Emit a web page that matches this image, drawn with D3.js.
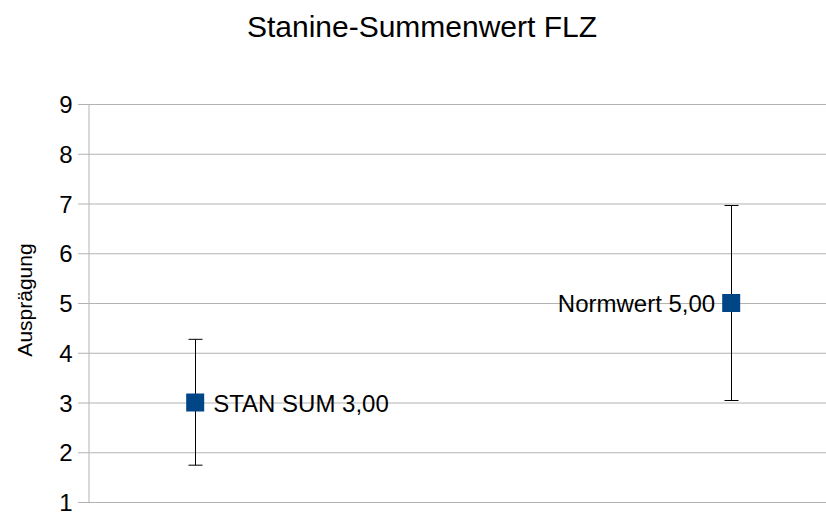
<!DOCTYPE html>
<html><head><meta charset="utf-8">
<script src="https://cdn.jsdelivr.net/npm/d3@7"></script>
<style>body{margin:0;background:#fff}svg{display:block;font-family:"Liberation Sans",Arial,sans-serif}</style>
</head><body>
<svg id="c" width="826" height="512"></svg>
<script>
const title = "Stanine-Summenwert FLZ";
const yTitle = "Ausprägung";
const names = ["STAN SUM", "Normwert"];
const xPos = [1, 2];
const values = [3, 5];
const errLow = [1.74, 3.04];
const errHigh = [4.27, 6.96];
const yTicks = [1, 2, 3, 4, 5, 6, 7, 8, 9];

(function () {
const svg = d3.select("#c");
const plotLeft = 88, plotTop = 104, plotBottom = 502;
const x = d3.scaleLinear().domain([0.8, 2.2]).range([plotLeft, plotLeft + 1.4 * 536]);
const y = d3.scaleLinear().domain([1, 9]).range([plotBottom, plotTop]);

svg.append("text").attr("x", 422).attr("y", 37).attr("text-anchor", "middle")
  .attr("font-size", 30).attr("fill", "#000").text(title);

// grid
svg.append("g").selectAll("line").data(yTicks).join("line")
  .attr("x1", plotLeft - 10).attr("x2", 826)
  .attr("y1", d => y(d) + 0.5).attr("y2", d => y(d) + 0.5)
  .attr("stroke", "#b3b3b3").attr("stroke-width", 1);

const yAxis = svg.append("g").attr("transform", `translate(${plotLeft + 0.5},0)`)
  .call(d3.axisLeft(y).tickValues(yTicks).tickSize(0).tickPadding(16).tickFormat(d3.format("d")));
yAxis.select(".domain").attr("stroke", "#b3b3b3");
yAxis.selectAll("text").attr("font-size", 24).attr("fill", "#000")
  .attr("font-family", "Liberation Sans, Arial, sans-serif").attr("dy", "0.36em");

svg.append("text").attr("transform", `translate(32,300) rotate(-90)`)
  .attr("text-anchor", "middle").attr("font-size", 21).attr("fill", "#000").text(yTitle);

// error bars
const eb = svg.append("g").attr("stroke", "#000").attr("stroke-width", 1);
xPos.forEach((xv, i) => {
  const cx = Math.round(x(xv)) + 0.5;
  eb.append("line").attr("x1", cx).attr("x2", cx).attr("y1", y(errLow[i])).attr("y2", y(errHigh[i]));
  eb.append("line").attr("x1", cx - 7).attr("x2", cx + 7).attr("y1", y(errLow[i])).attr("y2", y(errLow[i]));
  eb.append("line").attr("x1", cx - 7).attr("x2", cx + 7).attr("y1", y(errHigh[i])).attr("y2", y(errHigh[i]));
});

// markers
svg.append("g").selectAll("rect").data(values).join("rect")
  .attr("x", (d, i) => x(xPos[i]) - 9).attr("y", d => y(d) - 9)
  .attr("width", 18).attr("height", 18).attr("fill", "#004586");

// labels
const fmt = v => d3.format(".2f")(v).replace(".", ",");
svg.append("g").selectAll("text").data(values).join("text")
  .attr("x", (d, i) => i === 0 ? x(xPos[i]) + 18 : x(xPos[i]) - 16)
  .attr("y", d => y(d) + 9)
  .attr("text-anchor", (d, i) => i === 0 ? "start" : "end")
  .attr("font-size", 24).attr("fill", "#000")
  .text((d, i) => `${names[i]} ${fmt(d)}`);
})();
</script>
</body></html>
